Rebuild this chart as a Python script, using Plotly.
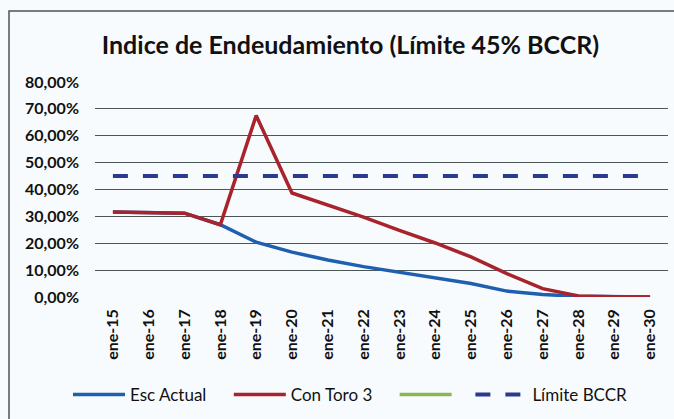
import plotly.graph_objects as go

categories = ["ene-15", "ene-16", "ene-17", "ene-18", "ene-19", "ene-20", "ene-21", "ene-22",
              "ene-23", "ene-24", "ene-25", "ene-26", "ene-27", "ene-28", "ene-29", "ene-30"]
esc_actual = [31.6, 31.3, 31.2, 26.9, 20.4, 16.7, 13.8, 11.3, 9.1, 7.2, 5.0, 2.2, 0.9, 0.3, 0.1, 0.0]
con_toro3 = [31.6, 31.3, 31.2, 26.9, 67.5, 38.7, 34.3, 29.7, 24.8, 20.1, 14.9, 8.7, 3.1, 0.4, 0.1, 0.0]
limite_bccr = [45.0] * 16
y_ticks = [0, 10, 20, 30, 40, 50, 60, 70, 80]
y_tick_labels = [f"{v:.2f}".replace(".", ",") + "%" for v in y_ticks]

NB = "\u00a0"
fig = go.Figure()
fig.add_trace(go.Scatter(x=categories, y=esc_actual, mode="lines", name="Esc Actual" + NB * 4,
                         line=dict(color="#1f5fb0", width=3.5)))
fig.add_trace(go.Scatter(x=categories, y=con_toro3, mode="lines", name="Con Toro 3" + NB * 4,
                         line=dict(color="#a8232b", width=3.5)))
fig.add_trace(go.Scatter(x=[None], y=[None], mode="lines", name=NB * 2,
                         line=dict(color="#8db555", width=3.5), showlegend=True))
fig.add_trace(go.Scatter(x=categories, y=limite_bccr, mode="lines", name="Límite BCCR",
                         line=dict(color="#2a3a8f", width=4, dash="15px,15px")))

fig.update_layout(
    width=674, height=419,
    margin=dict(l=95, r=6, t=82, b=122, autoexpand=False),
    paper_bgcolor="#f8fbfd", plot_bgcolor="#f8fbfd",
    title=dict(text="<b>Indice de Endeudamiento (Límite 45% BCCR)</b>",
               x=0.52, xanchor="center", y=1 - 45 / 419, yanchor="middle",
               font=dict(family="Lato", size=25, color="#111111")),
    font=dict(family="Lato", color="#111111"),
    xaxis=dict(type="category", tickangle=-90, showgrid=False, showline=False, automargin=False,
               ticks="", tickfont=dict(size=16, color="#111111", weight="bold"),
               range=[-0.5, 15.5], ticklabelstandoff=8),
    yaxis=dict(range=[0, 80], tickvals=y_ticks, ticktext=y_tick_labels, automargin=False,
               showgrid=True, gridcolor="#4d5656", gridwidth=1, zeroline=False,
               showline=False, tickfont=dict(size=16, color="#111111", weight="bold"),
               ticklabelstandoff=15),
    legend=dict(orientation="h", x=68 / 674, xanchor="left", xref="container",
                y=1 - 395 / 419, yanchor="middle", yref="container",
                font=dict(size=17, color="#111111"), bgcolor="rgba(0,0,0,0)",
                itemwidth=52, tracegroupgap=0),
    shapes=[dict(type="rect", xref="paper", yref="paper",
                 x0=(9 - 95) / 573, x1=1.2, y0=-0.7, y1=1 + (82 - 11) / 215,
                 line=dict(color="#4a5656", width=1.5), fillcolor="rgba(0,0,0,0)", layer="below")],
)

fig.write_html("out.html",
               config={"displayModeBar": False},
               post_script="document.body.style.margin='0';document.body.style.padding='0';"
                           "document.documentElement.style.overflow='hidden';")
